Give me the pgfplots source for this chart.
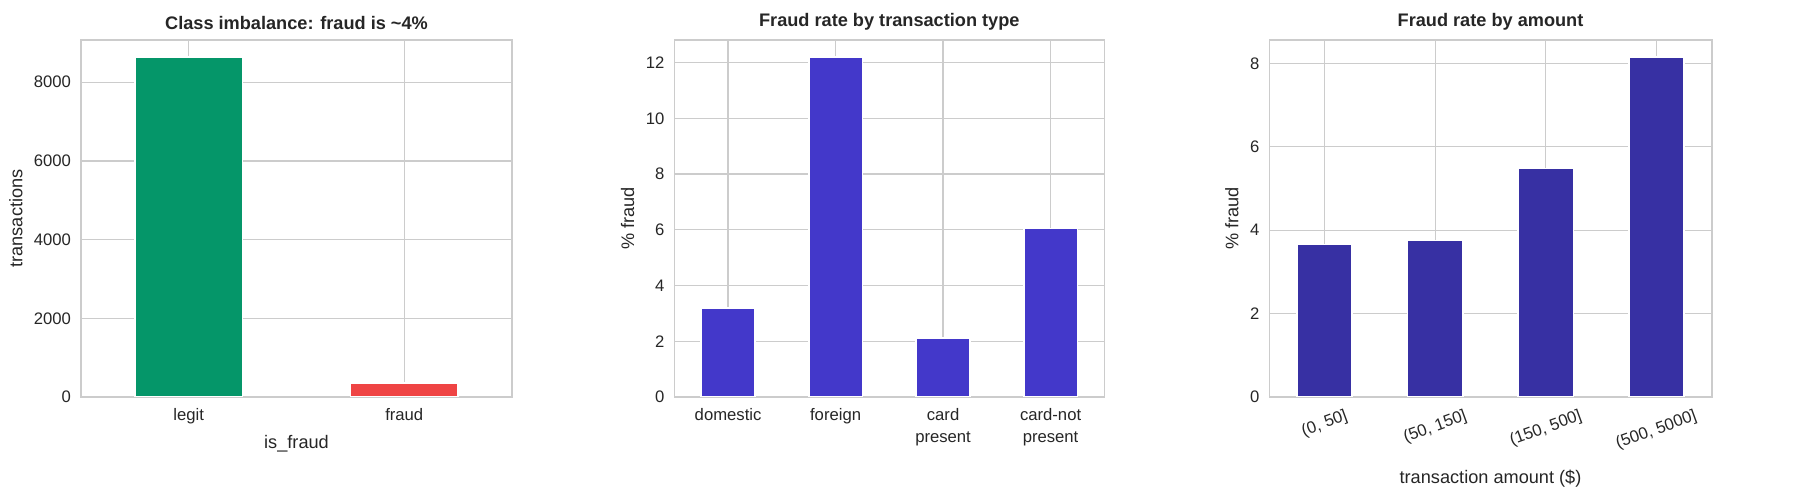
\documentclass[border=0pt]{standalone}
\usepackage{fontspec}
\setmainfont{Liberation Sans}
\usepackage{graphicx}
\usepackage{pgfplots}
\pgfplotsset{compat=1.18}

\definecolor{legitc}{HTML}{059669}
\definecolor{fraudc}{HTML}{EF4444}
\definecolor{typec}{HTML}{4338CA}
\definecolor{amtc}{HTML}{3730A3}
\definecolor{gridc}{HTML}{CCCCCC}
\definecolor{txt}{HTML}{262626}

\pgfplotsset{
  panel/.style={
    scale only axis,
    height=214.2bp,
    anchor=south west,
    ybar, bar width=0.5, bar shift=0pt,
    ymin=0,
    grid=major,
    major grid style={draw=gridc, line width=0.8bp},
    axis line style={draw=gridc, line width=1bp},
    major tick length=0pt,
    tick label style={font=\fontsize{10bp}{13bp}\selectfont, text=txt},
    yticklabel style={xshift=-2.5bp},
    xticklabel style={yshift=-3.5bp, align=center},
    label style={font=\fontsize{10.9bp}{13bp}\selectfont, text=txt},
    title style={font=\bfseries\fontsize{10.9bp}{13bp}\selectfont, text=txt, yshift=-3.5bp},
    /pgf/number format/assume math mode=true,
    /pgf/number format/1000 sep={},
    scaled y ticks=false,
    every axis plot/.append style={draw=white, line width=1bp},
  }
}

\begin{document}
\begin{tikzpicture}
\useasboundingbox (0,0) rectangle (1081.8bp,301.8bp);

% panel 1: class counts
\begin{axis}[panel,
  at={(48.6bp,63.6bp)}, width=258.6bp,
  title={Class imbalance: fraud is \textasciitilde 4\%},
  xmin=-0.5, xmax=1.5, ymax=9072,
  xtick={0,1}, xticklabels={legit,fraud},
  ytick={0,2000,4000,6000,8000},
  xlabel={is\_fraud}, ylabel={transactions}]
  \addplot[fill=legitc] coordinates {(0,8640)};
  \addplot[fill=fraudc] coordinates {(1,360)};
\end{axis}

% panel 2: by transaction type
\begin{axis}[panel,
  at={(404.6bp,63.6bp)}, width=258bp,
  title={Fraud rate by transaction type},
  xmin=-0.5, xmax=3.5, ymax=12.81,
  xtick={0,1,2,3},
  xticklabels={domestic,foreign,card\\present,card-not\\present},
  ytick={0,2,4,6,8,10,12},
  ylabel={\% fraud}]
  \addplot[fill=typec] coordinates {(0,3.2) (1,12.2) (2,2.11) (3,6.05)};
\end{axis}

% panel 3: by amount bucket
\begin{axis}[panel,
  at={(761.6bp,63.6bp)}, width=265.4bp,
  title={Fraud rate by amount},
  xmin=-0.5, xmax=3.5, ymax=8.56,
  xtick={0,1,2,3},
  xticklabels={{\rotatebox{20}{(0, 50]}},{\rotatebox{20}{(50, 150]}},{\rotatebox{20}{(150, 500]}},{\rotatebox{20}{(500, 5000]}}},
  ytick={0,2,4,6,8},
  xlabel style={yshift=-4bp},
  xlabel={transaction amount (\$)}, ylabel={\% fraud}]
  \addplot[fill=amtc] coordinates {(0,3.66) (1,3.75) (2,5.48) (3,8.15)};
\end{axis}
\end{tikzpicture}
\end{document}
